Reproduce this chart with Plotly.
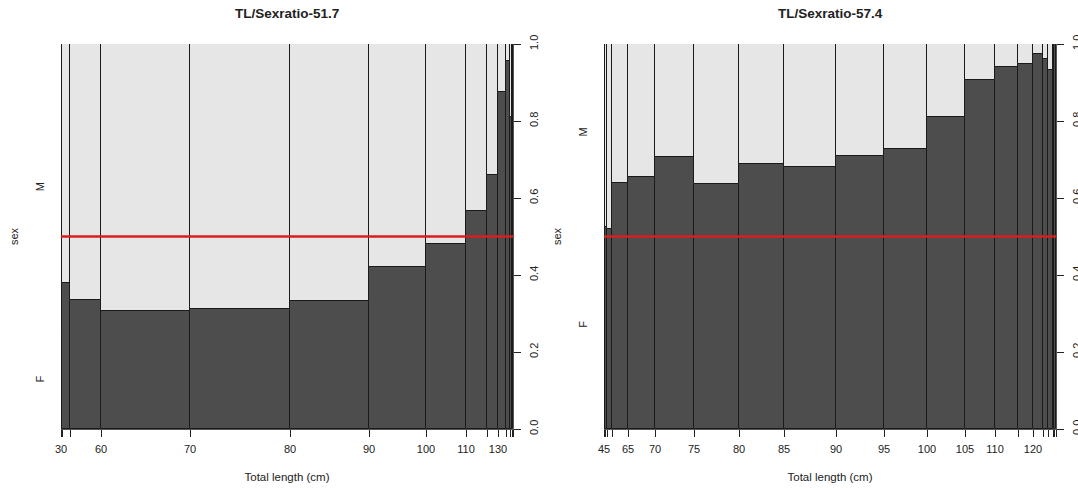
import numpy as np
import plotly.graph_objects as go

# ---- data: length-class breaks, fish counts per class, proportion female ----
left_breaks = [30, 40, 50, 60, 70, 80, 90, 100, 110, 120, 130, 140, 150, 160, 170]
left_counts = [4, 32, 124, 356, 400, 316, 228, 160, 84, 44, 32, 16, 8, 4]
left_female = [0.25, 0.38, 0.334, 0.306, 0.313, 0.332, 0.42, 0.48, 0.565,
               0.66, 0.875, 0.956, 0.81, 1.0]
left_labels_shown = [30, 60, 70, 80, 90, 100, 110, 130]
left_title = "TL/Sexratio-51.7"

right_breaks = [45, 50, 55, 60, 65, 70, 75, 80, 85, 90, 95, 100, 105, 110,
                115, 120, 125, 130, 135, 140, 145]
right_counts = [4, 8, 20, 64, 108, 156, 180, 180, 208, 192, 172, 152, 120,
                92, 60, 40, 20, 20, 4, 8]
right_female = [0.535, 0.525, 0.52, 0.639, 0.655, 0.706, 0.636, 0.688, 0.681,
                0.709, 0.727, 0.81, 0.906, 0.94, 0.948, 0.974, 0.961, 0.932,
                1.0, 1.0]
right_labels_shown = [45, 65, 70, 75, 80, 85, 90, 95, 100, 105, 110, 120]
right_title = "TL/Sexratio-57.4"

sex_levels = ["F", "M"]
prop_ticks = [0.0, 0.2, 0.4, 0.6, 0.8, 1.0]
ref_ratio = 0.5

DARK = "#4D4D4D"
LIGHT = "#E6E6E6"
EDGE = "#1A1A1A"
TXT = "#222222"
FONT = "Liberation Sans, Arial, sans-serif"

W, H = 1078, 488
Y_DOM = [1 - 429 / H, 1 - 44 / H]
X_DOMS = [[61 / W, 513 / W], [604 / W, 1056 / W]]

fig = go.Figure()


def add_panel(idx, breaks, counts, female, shown, title):
    xa = "x" if idx == 0 else "x2"
    ya_l = "y" if idx == 0 else "y3"
    ya_r = "y2" if idx == 0 else "y4"
    n = np.asarray(counts, float)
    w = n / n.sum()
    edges = np.concatenate([[0.0], np.cumsum(w)])
    centers = (edges[:-1] + edges[1:]) / 2
    f = np.asarray(female, float)

    # female share (bottom), male share (top) of each spine
    fig.add_trace(go.Bar(x=centers, y=f, base=0, width=w, xaxis=xa, yaxis=ya_l,
                         marker=dict(color=DARK, line=dict(color=EDGE, width=1)),
                         showlegend=False, hoverinfo="skip"))
    fig.add_trace(go.Bar(x=centers, y=1 - f, base=f, width=w, xaxis=xa, yaxis=ya_l,
                         marker=dict(color=LIGHT, line=dict(color=EDGE, width=1)),
                         showlegend=False, hoverinfo="skip"))
    # 1:1 sex-ratio reference line
    fig.add_trace(go.Scatter(x=[0, 1], y=[ref_ratio, ref_ratio], mode="lines",
                             xaxis=xa, yaxis=ya_r, showlegend=False, hoverinfo="skip",
                             line=dict(color="#D81E1E", width=2.5)))

    ticktext = [str(b) if b in shown else "" for b in breaks]
    f0 = f[0]
    sex_pos = [f0 / 2, (f0 + 1) / 2]

    xkey = "xaxis" if idx == 0 else "xaxis2"
    ylkey = "yaxis" if idx == 0 else "yaxis3"
    yrkey = "yaxis2" if idx == 0 else "yaxis4"
    fig.update_layout(**{
        xkey: dict(domain=X_DOMS[idx], range=[0, 1], anchor=ya_l, automargin=False,
                   tickmode="array", tickvals=list(edges), ticktext=ticktext,
                   ticks="outside", ticklen=7, tickcolor=TXT, tickwidth=1,
                   showline=True, linecolor="#555555", linewidth=1,
                   showgrid=False, zeroline=False,
                   tickfont=dict(size=11, color=TXT, family=FONT),
                   ticklabelstandoff=3,
                   title=dict(text="Total length (cm)", standoff=18,
                              font=dict(size=11.5, color=TXT, family=FONT))),
        ylkey: dict(domain=Y_DOM, range=[0, 1], anchor=xa, automargin=False,
                    tickmode="array", tickvals=sex_pos, ticktext=sex_levels,
                    ticks="", tickangle=-90, showline=False, showgrid=False,
                    zeroline=False, ticklabelstandoff=14,
                    tickfont=dict(size=11, color=TXT, family=FONT),
                    title=dict(text="sex", standoff=12,
                               font=dict(size=11, color=TXT, family=FONT))),
        yrkey: dict(domain=Y_DOM, range=[0, 1], anchor=xa, overlaying=ya_l,
                    automargin=False,
                    side="right", tickmode="array", tickvals=prop_ticks,
                    ticktext=[f"{v:.1f}" for v in prop_ticks],
                    ticks="outside", ticklen=7, tickcolor=TXT, tickangle=-90,
                    showline=True, linecolor="#555555", showgrid=False,
                    zeroline=False, ticklabelstandoff=4,
                    tickfont=dict(size=11, color=TXT, family=FONT)),
    })
    fig.add_annotation(text=f"<b>{title}</b>", xref="paper", yref="paper",
                       x=sum(X_DOMS[idx]) / 2, y=1 - 14 / H, xanchor="center",
                       yanchor="middle", showarrow=False,
                       font=dict(size=13.5, color=TXT, family=FONT))


add_panel(0, left_breaks, left_counts, left_female, left_labels_shown, left_title)
add_panel(1, right_breaks, right_counts, right_female, right_labels_shown, right_title)

fig.update_layout(width=W, height=H, margin=dict(l=0, r=0, t=0, b=0),
                  barmode="overlay", bargap=0, plot_bgcolor="white",
                  paper_bgcolor="white", font=dict(family=FONT, color=TXT))

fig.write_html("out.html")
